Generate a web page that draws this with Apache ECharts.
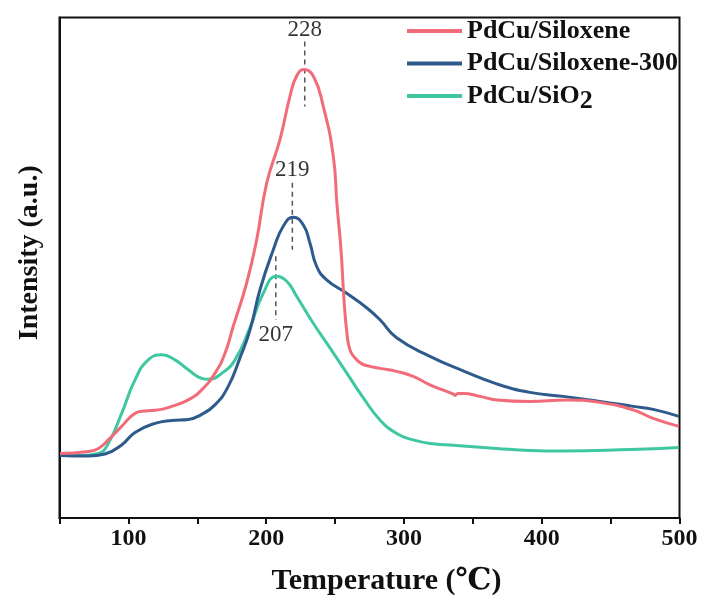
<!DOCTYPE html>
<html>
<head>
<meta charset="utf-8">
<script src="https://cdn.jsdelivr.net/npm/echarts@6/dist/echarts.min.js"></script>
<style>html,body{margin:0;padding:0;background:#fff}#c{width:706px;height:601px}</style>
</head>
<body>
<div id="c"></div>
<script>
var seriesNames = ['PdCu/Siloxene', 'PdCu/Siloxene-300', 'PdCu/SiO2'];

var redT = [50.4, 70.9, 78.2, 85.4, 95.1, 104.8, 112.0, 121.7, 131.4, 143.5, 153.2, 162.8, 170.1, 176.1, 185.8, 193.1, 200.4, 210.0, 217.3, 222.1, 227.4, 234.2, 241.4, 248.7, 251.4, 254.3, 256.5, 258.6, 260.8, 264.4, 269.5, 275.3, 282.6, 294.7, 306.7, 318.9, 331.0, 335.6, 337.0, 339.2, 343.0, 355.2, 367.3, 391.4, 418.1, 442.2, 466.4, 480.9, 499.6];
var redI = [12.9, 13.3, 13.9, 15.6, 18.3, 20.9, 21.4, 21.6, 22.3, 23.6, 25.6, 28.9, 32.9, 38.3, 46.9, 55.6, 66.9, 75.6, 84.3, 88.3, 89.6, 88.3, 82.3, 72.3, 62.6, 53.6, 43.6, 37.0, 33.6, 32.0, 30.8, 30.3, 29.9, 29.3, 28.3, 26.6, 25.3, 24.8, 24.5, 24.9, 24.9, 24.3, 23.6, 23.3, 23.6, 23.1, 21.6, 19.9, 18.3];

var blueT = [50.4, 70.9, 83.0, 95.1, 104.8, 119.3, 131.4, 143.5, 153.2, 162.8, 172.3, 181.0, 188.3, 195.5, 205.2, 212.4, 219.7, 226.9, 231.8, 236.6, 243.9, 258.4, 272.9, 282.6, 294.7, 318.9, 343.0, 367.3, 391.4, 415.6, 442.2, 466.4, 480.9, 499.6];
var blueI = [12.5, 12.4, 12.8, 14.6, 17.1, 18.9, 19.5, 19.7, 20.7, 22.6, 26.2, 32.0, 37.6, 45.6, 53.6, 58.3, 60.1, 58.6, 54.9, 50.3, 47.6, 44.9, 42.0, 39.6, 36.0, 32.3, 29.4, 26.8, 25.1, 24.3, 23.3, 22.3, 21.7, 20.3];

var greenT = [50.4, 65.0, 78.2, 85.4, 95.1, 104.8, 114.4, 124.2, 133.8, 143.5, 153.2, 158.0, 167.7, 177.4, 188.2, 197.9, 207.6, 214.9, 222.1, 234.2, 246.3, 258.4, 270.5, 282.6, 294.7, 306.7, 318.9, 343.0, 367.3, 391.4, 415.6, 464.0, 499.6];
var greenI = [12.5, 12.5, 12.9, 14.9, 20.9, 27.6, 31.6, 32.6, 31.6, 29.6, 27.9, 27.7, 28.9, 31.6, 38.0, 44.9, 48.3, 47.3, 44.3, 38.9, 34.0, 29.0, 24.0, 19.6, 16.9, 15.6, 14.9, 14.4, 13.9, 13.5, 13.4, 13.7, 14.1];

var peakLabels = ['228', '219', '207'];
var peakT = [228, 219, 207];
var peakLineTop = [95.2, 67.0, 52.3];
var peakLineBottom = [82.2, 53.6, 39.6];
var peakLabelI = [97.6, 69.6, 36.6];

var xTicks = [100, 200, 300, 400, 500];
var colors = ['#F26B78', '#2E5A8C', '#3FC7A2'];

function zip(a, b) { return a.map(function (v, i) { return [v, b[i]]; }); }

var chart = echarts.init(document.getElementById('c'), null, { renderer: 'canvas' });
var serif = '"Liberation Serif", "DejaVu Serif", serif';

var series = [];
[[redT, redI], [blueT, blueI], [greenT, greenI]].forEach(function (d, k) {
  series.push({
    name: seriesNames[k], type: 'line', data: zip(d[0], d[1]),
    showSymbol: false, smooth: 0.5,
    lineStyle: { color: colors[k], width: 3 }, itemStyle: { color: colors[k] },
    z: 3 - k + 2
  });
});
peakT.forEach(function (t, k) {
  series.push({
    type: 'line', data: [[t, peakLineTop[k]], [t, peakLineBottom[k]]],
    showSymbol: false, silent: true,
    lineStyle: { color: '#555', width: 1.5, type: [5, 4] }, z: 1
  });
});
series.push({
  type: 'scatter', symbolSize: 0, silent: true,
  data: peakT.map(function (t, k) { return { value: [t, peakLabelI[k]], name: peakLabels[k] }; }),
  label: { show: true, position: 'inside', formatter: '{b}', color: '#000', fontFamily: serif, fontSize: 23 }
});

chart.setOption({
  animation: false,
  backgroundColor: '#fff',
  grid: { left: 59.5, right: 26.5, top: 17.5, bottom: 83, show: true, borderColor: '#111', borderWidth: 2, backgroundColor: 'transparent' },
  legend: {
    data: seriesNames, orient: 'vertical', left: 402, top: 13, icon: 'rect',
    itemWidth: 55, itemHeight: 4, itemGap: 6.5,
    textStyle: {
      fontFamily: serif, fontWeight: 'bold', fontSize: 26, color: '#111', lineHeight: 24,
      rich: { sub: { fontFamily: serif, fontWeight: 'bold', fontSize: 26, color: '#111', padding: [11, 0, 0, 0] } }
    },
    formatter: function (n) { return n === 'PdCu/SiO2' ? 'PdCu/SiO{sub|2}' : n; }
  },
  xAxis: {
    type: 'value', min: 50, max: 500, interval: 50,
    name: 'Temperature (\u2103)', nameLocation: 'middle', nameGap: 48,
    nameTextStyle: { fontFamily: serif, fontWeight: 'bold', fontSize: 30, color: '#111', padding: [0, 0, 0, 34] },
    axisLine: { lineStyle: { color: '#111', width: 2 } },
    axisTick: { show: true, inside: false, length: 6, lineStyle: { color: '#111', width: 2 } },
    axisLabel: {
      fontFamily: serif, fontWeight: 'bold', fontSize: 24, color: '#111', margin: 9,
      formatter: function (v) { return xTicks.indexOf(v) >= 0 ? String(v) : ''; }
    },
    splitLine: { show: false }
  },
  yAxis: {
    type: 'value', min: 0, max: 100,
    name: 'Intensity (a.u.)', nameLocation: 'middle', nameGap: 16,
    nameTextStyle: { fontFamily: serif, fontWeight: 'bold', fontSize: 28, color: '#111', padding: [0, 0, 0, 30] },
    axisLine: { show: true, lineStyle: { color: '#111', width: 2 } },
    axisTick: { show: false }, axisLabel: { show: false }, splitLine: { show: false }
  },
  series: series
});
</script>
</body>
</html>
